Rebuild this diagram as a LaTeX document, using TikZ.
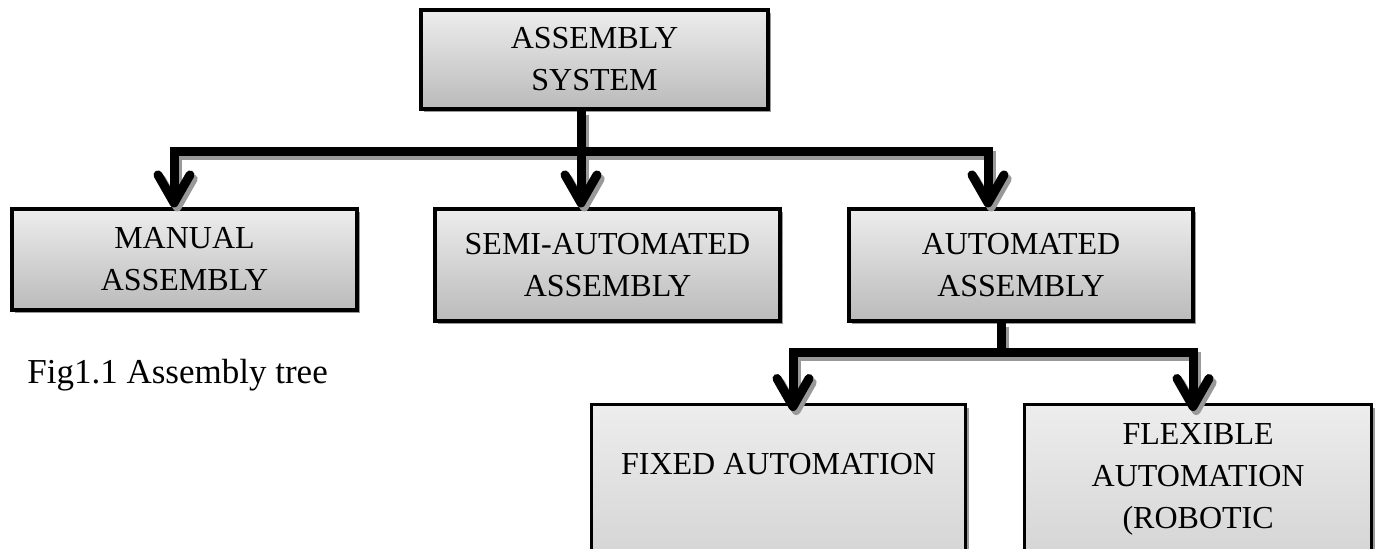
\documentclass[tikz,border=0pt]{standalone}
\usepackage{fontspec}
\setmainfont{Liberation Serif}
\usetikzlibrary{arrows.meta,shadows}
\begin{document}
\begin{tikzpicture}[x=0.5pt,y=-0.5pt,
  box/.style={draw=black, line width=1.6pt, top color=black!7, bottom color=black!27,
    drop shadow={shadow xshift=1.6pt, shadow yshift=-1.6pt, fill=black!40, opacity=1},
    inner sep=0pt, align=center, font=\fontsize{16pt}{21pt}\selectfont},
  conn/.style={line width=4.5pt, -{Straight Barb[length=14pt,width=16pt,round]}},
  capt/.style={font=\fontsize{17.5pt}{21pt}\selectfont, inner sep=0pt, anchor=base west},
]
\useasboundingbox (0,0) rectangle (1375,548);
\clip (0,0) rectangle (1375,548);

% boxes
\node[box, minimum width=173.5pt, minimum height=49.5pt] (top) at (594.5,59.5) {ASSEMBLY\\SYSTEM};
\node[box, minimum width=172.5pt, minimum height=50.5pt] (manual) at (184.5,259.5) {MANUAL\\ASSEMBLY};
\node[box, minimum width=172.5pt, minimum height=56pt] (semi) at (607.5,265) {SEMI-AUTOMATED\\ASSEMBLY};
\node[box, minimum width=172pt, minimum height=56pt] (auto) at (1021,265) {AUTOMATED\\ASSEMBLY};
\node[box, anchor=north west] (fixed) at (590,403)
  {\parbox[t][160pt][t]{187pt}{\centering\rule{0pt}{35pt}FIXED AUTOMATION}};
\node[box, anchor=north west] (flex) at (1023,403)
  {\parbox[t][160pt][t]{173.5pt}{\centering\rule{0pt}{20pt}FLEXIBLE\\AUTOMATION\\(ROBOTIC}};

\node[capt] (cap) at (27,383) {Fig1.1 Assembly tree};

% junction coordinates
\coordinate (j1) at (581,151);
\coordinate (bL) at (174,151);
\coordinate (bR) at (988,151);
\coordinate (j2) at (1001,352);
\coordinate (cL) at (793,352);
\coordinate (cR) at (1193,352);

\newcommand\myconns{%
  \draw[conn] (top.south -| j1) -- (j1 |- semi.north);
  \draw[conn] (j1) -| (bL |- manual.north);
  \draw[conn] (j1) -| (bR |- auto.north);
  \draw[conn, shorten >=-4pt] (auto.south -| j2) -- (j2) -| (cL |- fixed.north);
  \draw[conn, shorten >=-4pt] (j2) -| (cR |- flex.north);
}
\begin{scope}[transform canvas={xshift=1.6pt, yshift=-2pt}, black!40]
  \myconns
\end{scope}
\myconns
\end{tikzpicture}
\end{document}
